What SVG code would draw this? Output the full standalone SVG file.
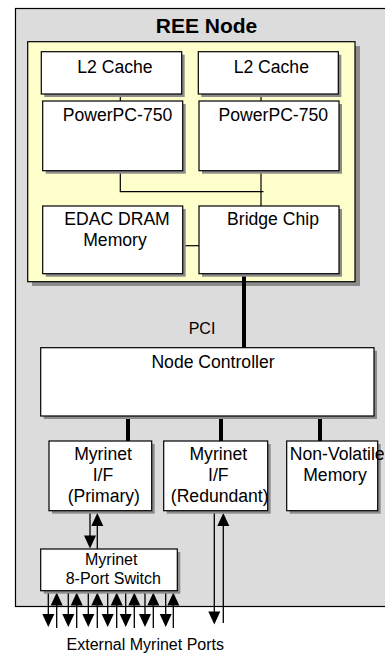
<svg xmlns="http://www.w3.org/2000/svg" width="385" height="656" viewBox="0 0 385 656">
<defs>
<style>
.box{fill:#ffffff;stroke:#000;stroke-width:1.2}
.sh{fill:#8c8c8c}
.t{font-family:"Liberation Sans",Arial,sans-serif;font-size:17.6px;fill:#000;text-anchor:middle}
.ts{font-family:"Liberation Sans",Arial,sans-serif;font-size:16px;fill:#000;text-anchor:middle}
.thin{stroke:#000;stroke-width:1.2;fill:none}
.thick{stroke:#000;stroke-width:4;fill:none}
.ln{stroke:#000;stroke-width:1.3;fill:none}
.hd{fill:#000}
</style>
<path id="dn" class="hd" d="M-6,-13 L6,-13 L0,0 z"/>
<path id="up" class="hd" d="M-6,13 L6,13 L0,0 z"/>
</defs>
<g id="ree-node">
<rect x="15.5" y="8.5" width="380" height="598" fill="#dcdcdc" stroke="#000" stroke-width="1.2"/>
<text x="206.5" y="33.3" class="t" style="font-weight:bold;font-size:21px">REE Node</text>
</g>
<g id="board">
<rect class="sh" x="32" y="46" width="328" height="240"/>
<rect x="27.7" y="41.7" width="327.3" height="240" fill="#ffffcc" stroke="#000" stroke-width="1.2"/>
</g>
<g id="connectors">
<line class="thin" x1="120.3" y1="94" x2="120.3" y2="101"/>
<line class="thin" x1="261" y1="94" x2="261" y2="101"/>
<polyline class="thin" points="120.3,171 120.3,191.7 263.5,191.7"/>
<line class="thin" x1="261" y1="171" x2="261" y2="206"/>
<line class="thin" x1="182.7" y1="245.7" x2="199" y2="245.7"/>
<line class="thick" x1="244" y1="274" x2="244" y2="347.7"/>
<line class="thick" x1="128" y1="416" x2="128" y2="441"/>
<line class="thick" x1="221" y1="416" x2="221" y2="441"/>
<line class="thick" x1="320" y1="416" x2="320" y2="441"/>
<line class="ln" x1="90" y1="511" x2="90" y2="540"/><use href="#dn" x="90" y="548.5"/>
<line class="ln" x1="97.3" y1="549" x2="97.3" y2="520"/><use href="#up" x="97.3" y="513"/>
<line class="ln" x1="214.3" y1="511" x2="214.3" y2="616"/><use href="#dn" x="214.3" y="624.5"/>
<line class="ln" x1="223.3" y1="623" x2="223.3" y2="520"/><use href="#up" x="223.3" y="513"/>
<line class="ln" x1="48.3" y1="591" x2="48.3" y2="620"/><use href="#dn" x="48.3" y="627"/>
<line class="ln" x1="68.3" y1="591" x2="68.3" y2="620"/><use href="#dn" x="68.3" y="627"/>
<line class="ln" x1="88.3" y1="591" x2="88.3" y2="620"/><use href="#dn" x="88.3" y="627"/>
<line class="ln" x1="107.7" y1="591" x2="107.7" y2="620"/><use href="#dn" x="107.7" y="627"/>
<line class="ln" x1="125.7" y1="591" x2="125.7" y2="620"/><use href="#dn" x="125.7" y="627"/>
<line class="ln" x1="145" y1="591" x2="145" y2="620"/><use href="#dn" x="145" y="627"/>
<line class="ln" x1="165.7" y1="591" x2="165.7" y2="620"/><use href="#dn" x="165.7" y="627"/>
<line class="ln" x1="56.7" y1="628" x2="56.7" y2="600"/><use href="#up" x="56.7" y="592.5"/>
<line class="ln" x1="76.7" y1="628" x2="76.7" y2="600"/><use href="#up" x="76.7" y="592.5"/>
<line class="ln" x1="97.3" y1="628" x2="97.3" y2="600"/><use href="#up" x="97.3" y="592.5"/>
<line class="ln" x1="116.7" y1="628" x2="116.7" y2="600"/><use href="#up" x="116.7" y="592.5"/>
<line class="ln" x1="134.3" y1="628" x2="134.3" y2="600"/><use href="#up" x="134.3" y="592.5"/>
<line class="ln" x1="153.3" y1="628" x2="153.3" y2="600"/><use href="#up" x="153.3" y="592.5"/>
<line class="ln" x1="173.3" y1="628" x2="173.3" y2="600"/><use href="#up" x="173.3" y="592.5"/>
<text x="202" y="334" class="ts">PCI</text>
<text x="145.3" y="650" class="ts">External Myrinet Ports</text>
</g>
<g id="l2-cache-1">
<rect class="sh" x="44.3" y="54.7" width="140.4" height="42.3"/>
<rect class="box" x="41.3" y="51.7" width="140.4" height="42.3"/>
<text x="115" y="72.7" class="t">L2 Cache</text>
</g>
<g id="l2-cache-2">
<rect class="sh" x="201.3" y="54.7" width="140" height="42.3"/>
<rect class="box" x="198.3" y="51.7" width="140" height="42.3"/>
<text x="271.3" y="72.7" class="t">L2 Cache</text>
</g>
<g id="powerpc-1">
<rect class="sh" x="45.7" y="104" width="140" height="69.7"/>
<rect class="box" x="42.7" y="101" width="140" height="69.7"/>
<text x="117.5" y="120.7" class="t">PowerPC-750</text>
</g>
<g id="powerpc-2">
<rect class="sh" x="202" y="104" width="140" height="69.7"/>
<rect class="box" x="199" y="101" width="140" height="69.7"/>
<text x="273.3" y="120.7" class="t">PowerPC-750</text>
</g>
<g id="edac-dram">
<rect class="sh" x="45.7" y="209" width="140" height="67.7"/>
<rect class="box" x="42.7" y="206" width="140" height="67.7"/>
<text x="117" y="225" class="t">EDAC DRAM</text>
<text x="115" y="246" class="t">Memory</text>
</g>
<g id="bridge-chip">
<rect class="sh" x="202" y="209" width="140" height="67.7"/>
<rect class="box" x="199" y="206" width="140" height="67.7"/>
<text x="273" y="225" class="t">Bridge Chip</text>
</g>
<g id="node-controller">
<rect class="sh" x="43.7" y="350.7" width="333.3" height="68.3"/>
<rect class="box" x="40.7" y="347.7" width="333.3" height="68.3"/>
<text x="213" y="367.7" class="t">Node Controller</text>
</g>
<g id="myrinet-primary">
<rect class="sh" x="52" y="444" width="102.7" height="69.7"/>
<rect class="box" x="49" y="441" width="102.7" height="69.7"/>
<text x="103" y="460" class="t">Myrinet</text>
<text x="103" y="480.7" class="t">I/F</text>
<text x="103.8" y="501.7" class="t">(Primary)</text>
</g>
<g id="myrinet-redundant">
<rect class="sh" x="166.7" y="444" width="104" height="69.7"/>
<rect class="box" x="163.7" y="441" width="104" height="69.7"/>
<text x="218.3" y="460" class="t">Myrinet</text>
<text x="218.3" y="480.7" class="t">I/F</text>
<text x="219.7" y="501.7" class="t">(Redundant)</text>
</g>
<g id="non-volatile-memory">
<rect class="sh" x="289.7" y="444" width="91" height="69.7"/>
<rect class="box" x="286.7" y="441" width="91" height="69.7"/>
<text x="337.2" y="460" class="t">Non-Volatile</text>
<text x="335" y="480.7" class="t">Memory</text>
</g>
<g id="myrinet-switch">
<rect class="sh" x="43.7" y="552" width="136.6" height="41.7"/>
<rect class="box" x="40.7" y="549" width="136.6" height="41.7"/>
<text x="111.2" y="565.3" class="ts">Myrinet</text>
<text x="113.3" y="584" class="ts">8-Port Switch</text>
</g>
</svg>
